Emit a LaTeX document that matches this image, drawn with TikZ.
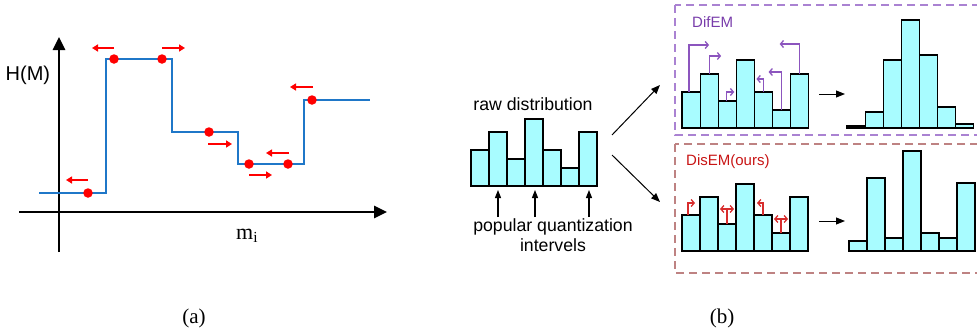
\documentclass[tikz,border=0pt]{standalone}
\usepackage{fontspec}
\setmainfont{Liberation Serif}
\newfontfamily\arial{Liberation Sans}
\usetikzlibrary{arrows.meta,calc}

\definecolor{stepblue}{RGB}{31,119,200}
\definecolor{dotred}{RGB}{255,0,0}
\definecolor{barfill}{RGB}{168,252,255}
\definecolor{difpurple}{RGB}{120,60,170}
\definecolor{difarrow}{RGB}{140,85,190}
\definecolor{difbox}{RGB}{170,130,210}
\definecolor{disred}{RGB}{200,20,20}
\definecolor{disarrow}{RGB}{215,45,45}
\definecolor{disbox}{RGB}{190,130,130}

\tikzset{
  axisline/.style={line width=2.6pt, -{Triangle[length=13pt,width=12pt]}},
  hstep/.style={stepblue, line width=2pt},
  mdot/.style={circle, fill=dotred, inner sep=0pt, minimum size=9.5pt},
  move/.style={dotred, line width=1.8pt, -{Triangle[length=6pt,width=7pt]}},
  histbar/.style={draw=black, fill=barfill, line width=1.2pt, inner sep=0pt,
                  outer sep=0pt, anchor=south west},
  flow/.style={black, line width=1pt, -{Triangle[length=9pt,width=7pt]}},
  pick/.style={black, line width=1.2pt, -{Triangle[length=8pt,width=6pt]}},
  difarr/.style={difarrow, line width=1.3pt, -{Straight Barb[length=3pt,width=7pt]}},
  disarr/.style={disarrow, line width=1.3pt, -{Straight Barb[length=3pt,width=7pt]}},
  disboth/.style={disarrow, line width=1.3pt,
                  {Straight Barb[length=3pt,width=7pt]}-{Straight Barb[length=3pt,width=7pt]}},
  groupbox/.style={line width=1.5pt, dash pattern=on 8pt off 5pt},
  sanslbl/.style={font=\arial\fontsize{17.7}{20}\selectfont, inner sep=0pt},
  methodlbl/.style={font=\arial\fontsize{15}{18}\selectfont, inner sep=0pt, anchor=base west},
  caplbl/.style={font=\fontsize{21}{24}\selectfont, inner sep=0pt, anchor=base},
}

% histogram: #1 name prefix, #2 left x, #3 bar width, #4 baseline y, #5 heights
\newcommand\histogram[5]{%
  \foreach \h [count=\k from 0] in {#5} {
    \node[histbar, minimum width=#3pt, minimum height=\h pt] (#1-\k)
      at ({#2+\k*#3}, #4) {};
  }%
}

\begin{document}
\begin{tikzpicture}[x=1pt, y=-1pt]
\useasboundingbox (0,0) rectangle (977,335);
\clip (0,0) rectangle (977,335);

% ---------- (a) entropy as a step function of the boundary ----------
\coordinate (ybot) at (59,252);
\coordinate (ytop) at (59,37);
\coordinate (xleft) at (19,212);
\coordinate (xright) at (387,212);
\draw[axisline] (ybot) -- (ytop);
\draw[axisline] (xleft) -- (xright);

\node[font=\arial\fontsize{20}{22}\selectfont, inner sep=0pt, anchor=base west]
  (hm) at (5.5,80) {H(M)};
\node[font=\fontsize{22}{24}\selectfont, inner sep=0pt, anchor=base west]
  (mi) at (236,239) {m\textsubscript{i}};

\draw[hstep] (39,193) -- (106,193) -- (106,59) -- (172,59) -- (172,132)
  -- (238,132) -- (238,164) -- (304,164) -- (304,100) -- (370,100);

\node[mdot] (d1) at (88,193) {};
\node[mdot] (d2) at (114,59) {};
\node[mdot] (d3) at (162,59) {};
\node[mdot] (d4) at (209,132) {};
\node[mdot] (d5) at (249,164) {};
\node[mdot] (d6) at (288,164) {};
\node[mdot] (d7) at (312,100) {};

\draw[move] ($(d1)+(0,-13)$) -- ++(-22,0);
\draw[move] ($(d2)+(0,-11)$) -- ++(-22,0);
\draw[move] ($(d3)+(0,-11)$) -- ++(23,0);
\draw[move] ($(d4)+(-1,12)$) -- ++(24,0);
\draw[move] ($(d5)+(0,11)$) -- ++(23,0);
\draw[move] ($(d6)+(1,-11)$) -- ++(-23,0);
\draw[move] ($(d7)+(1,-13)$) -- ++(-23,0);

\node[caplbl] (capa) at (194,323) {(a)};

% ---------- (b) raw distribution ----------
\histogram{r}{471}{18}{186}{36,54,27,67,36,18,54}
\node[sanslbl, anchor=base] (rawlbl) at (533,110) {raw distribution};
\node[sanslbl, anchor=base] (poplbl) at (553,231) {popular quantization};
\node[sanslbl, anchor=base] (intlbl) at (553,251) {intervels};

\draw[pick] (r-1.south |- 0,217) -- ($(r-1.south)+(0,4)$);
\draw[pick] ($(r-3.south |- 0,217)+(1,0)$) -- ($(r-3.south)+(1,4)$);
\draw[pick] ($(r-6.south |- 0,217)+(1,0)$) -- ($(r-6.south)+(1,4)$);

\coordinate (forkA) at (612,135);
\coordinate (forkAend) at (660,85);
\coordinate (forkB) at (612,155);
\coordinate (forkBend) at (660,202);
\draw[flow] (forkA) -- (forkAend);
\draw[flow] (forkB) -- (forkBend);

% ---------- DifEM group ----------
\draw[groupbox, difbox] (675,5) rectangle (990,135);
\node[methodlbl, text=difpurple] (diflbl) at (692,27) {DifEM};
\histogram{u}{682}{18.1}{128}{36,54,27,68,36,18,54}
\histogram{v}{847}{18.1}{128}{2,16,68,108,73,21,4}
\draw[difarr] ($(u-0.north)+(-2,0)$) |- ++(20,-47);
\draw[difarr] (u-1.north) |- ++(12,-18);
\draw[difarr] ($(u-2.north)+(-1,0)$) |- ++(8,-9);
\draw[difarr] (u-4.north) |- ++(-7,-13);
\draw[difarr] (u-5.north) |- ++(-13,-38);
\draw[difarr] (u-6.north) |- ++(-20,-30);
\coordinate (difgo) at (819,94);
\coordinate (difto) at (845,94);
\draw[flow] (difgo) -- (difto);

% ---------- DisEM group ----------
\draw[groupbox, disbox] (675,144) rectangle (990,273);
\node[methodlbl, text=disred] (dislbl) at (686,165) {DisEM(ours)};
\histogram{s}{682}{18}{251}{36,54,27,67,36,18,54}
\histogram{t}{849}{18}{251}{10,73,13,100,18,13,68}
\draw[disarr] ($(s-0.north)+(-3,0)$) |- ++(7,-12);
\draw[disarrow, line width=1.3pt] (s-2.north) -- ++(0,-15) coordinate (j2);
\draw[disboth] ($(j2)+(-7,0)$) -- ($(j2)+(7,0)$);
\draw[disarr] (s-4.north) |- ++(-6,-12);
\draw[disarrow, line width=1.3pt] (s-5.north) -- ++(0,-14) coordinate (j5);
\draw[disboth] ($(j5)+(-7,0)$) -- ($(j5)+(7,0)$);
\coordinate (disgo) at (819,221);
\coordinate (disto) at (845,221);
\draw[flow] (disgo) -- (disto);

\node[caplbl] (capb) at (722,323) {(b)};
\end{tikzpicture}
\end{document}
